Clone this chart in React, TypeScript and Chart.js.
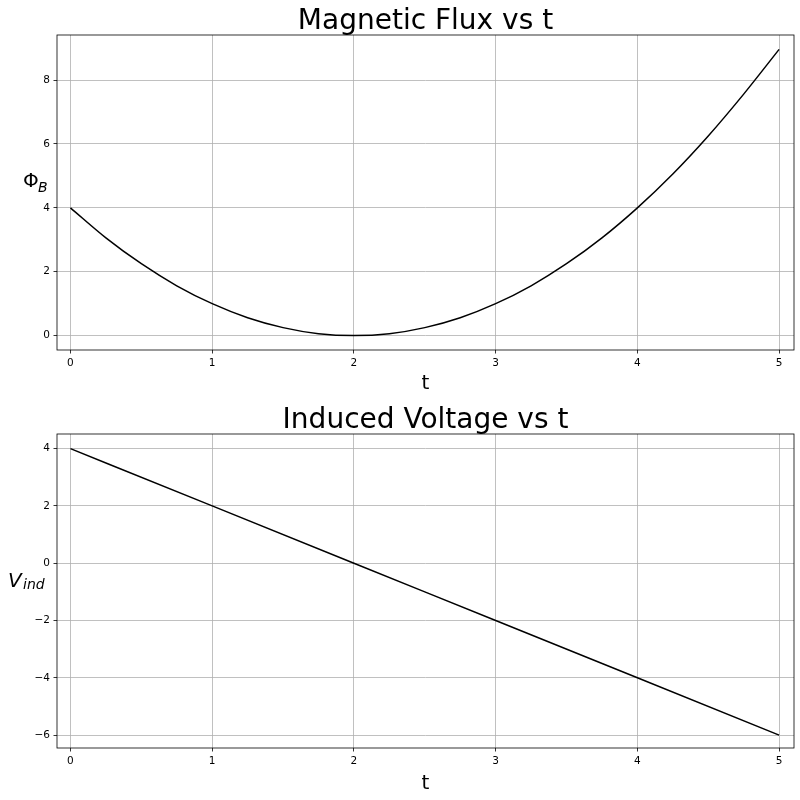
import React, { useEffect, useRef } from "react";
import { Chart, registerables } from "chart.js";

Chart.register(...registerables);

// ---- data ----
const tFlux = [0, 0.25, 0.5, 0.75, 1, 1.25, 1.5, 1.75, 2, 2.25, 2.5, 2.75, 3, 3.25, 3.5, 3.75, 4, 4.25, 4.5, 4.75, 5];
const fluxValues = [4.0, 3.06, 2.25, 1.56, 1.0, 0.56, 0.25, 0.06, 0.0, 0.06, 0.25, 0.56, 1.0, 1.56, 2.25, 3.06, 4.0, 5.06, 6.25, 7.56, 8.96];
const tVolt = [0, 1, 2, 3, 4, 5];
const voltValues = [4, 2, 0, -2, -4, -6];

const xTicks = [0, 1, 2, 3, 4, 5];
const xTickLabels = ["0", "1", "2", "3", "4", "5"];
const fluxTicks = [0, 2, 4, 6, 8];
const fluxTickLabels = ["0", "2", "4", "6", "8"];
const voltTicks = [-6, -4, -2, 0, 2, 4];
const voltTickLabels = ["\u22126", "\u22124", "\u22122", "0", "2", "4"];

const FONT = "'DejaVu Sans', 'Liberation Sans', sans-serif";

type Cfg = {
  title: string;
  xs: number[];
  ys: number[];
  yTicks: number[];
  yTickLabels: string[];
  yMin: number;
  yMax: number;
  top: number;
  plotH: number;
  yLabelMain: string;
  yLabelSub: string;
  mainItalic: boolean;
  mainX: number;
  mainBase: number;
  subX: number;
  subBase: number;
  titleBase: number;
  xLabelBase: number;
};

function makeChart(canvas: HTMLCanvasElement, c: Cfg) {
  const decor = {
    id: "decor",
    afterDraw(chart: any) {
      const ctx = chart.ctx as CanvasRenderingContext2D;
      const a = chart.chartArea;
      ctx.save();
      // frame
      ctx.strokeStyle = "#000";
      ctx.lineWidth = 0.8;
      ctx.strokeRect(a.left, a.top, a.right - a.left, a.bottom - a.top);
      // title
      ctx.fillStyle = "#000";
      ctx.textAlign = "center";
      ctx.textBaseline = "alphabetic";
      ctx.font = `28px ${FONT}`;
      ctx.fillText(c.title, (a.left + a.right) / 2, c.titleBase);
      // x label
      ctx.font = `20px ${FONT}`;
      ctx.fillText("t", (a.left + a.right) / 2, c.xLabelBase);
      // y label
      ctx.textAlign = "left";
      ctx.font = `${c.mainItalic ? "italic " : ""}20px ${FONT}`;
      ctx.fillText(c.yLabelMain, c.mainX, c.mainBase);
      ctx.font = `italic 14px ${FONT}`;
      ctx.fillText(c.yLabelSub, c.subX, c.subBase);
      ctx.restore();
    },
  };

  return new Chart(canvas, {
    type: "line",
    data: {
      datasets: [
        {
          data: c.xs.map((x, i) => ({ x, y: c.ys[i] })),
          borderColor: "#000",
          borderWidth: 1.5,
          pointRadius: 0,
          fill: false,
          cubicInterpolationMode: "monotone",
        } as any,
      ],
    },
    options: {
      animation: false,
      responsive: false,
      devicePixelRatio: 1,
      layout: { padding: { left: 0, right: 6, top: c.top, bottom: 0 } },
      plugins: {
        legend: { display: false },
        title: { display: false },
        tooltip: { enabled: false },
      },
      scales: {
        x: {
          type: "linear",
          min: -0.095,
          max: 5.105,
          afterBuildTicks: (s: any) => {
            s.ticks = xTicks.map((v) => ({ value: v }));
          },
          afterFit: (s: any) => {
            s.height = 400 - c.top - c.plotH;
          },
          ticks: {
            callback: (v: any) => {
              const i = xTicks.indexOf(Number(v));
              return i >= 0 ? xTickLabels[i] : "";
            },
            font: { family: FONT, size: 10.5 },
            color: "#000",
            padding: 3,
            maxRotation: 0,
            autoSkip: false,
          },
          grid: {
            color: "#b0b0b0",
            lineWidth: 0.8,
            tickLength: 3.5,
            tickColor: "#000",
            tickWidth: 0.8,
          },
          border: { display: false },
        },
        y: {
          type: "linear",
          min: c.yMin,
          max: c.yMax,
          afterBuildTicks: (s: any) => {
            s.ticks = c.yTicks.map((v) => ({ value: v }));
          },
          afterFit: (s: any) => {
            s.width = 57;
          },
          ticks: {
            callback: (v: any) => {
              const i = c.yTicks.indexOf(Number(v));
              return i >= 0 ? c.yTickLabels[i] : "";
            },
            font: { family: FONT, size: 10.5 },
            color: "#000",
            padding: 3.5,
            autoSkip: false,
          },
          grid: {
            color: "#b0b0b0",
            lineWidth: 0.8,
            tickLength: 3.5,
            tickColor: "#000",
            tickWidth: 0.8,
          },
          border: { display: false },
        },
      },
    } as any,
    plugins: [decor],
  });
}

export default function App() {
  const ref1 = useRef<HTMLCanvasElement>(null);
  const ref2 = useRef<HTMLCanvasElement>(null);

  useEffect(() => {
    const c1 = makeChart(ref1.current!, {
      title: "Magnetic Flux vs t",
      xs: tFlux,
      ys: fluxValues,
      yTicks: fluxTicks,
      yTickLabels: fluxTickLabels,
      yMin: -0.45,
      yMax: 9.41,
      top: 35,
      plotH: 315,
      yLabelMain: "\u03A6",
      yLabelSub: "B",
      mainItalic: false,
      mainX: 23,
      mainBase: 187,
      subX: 38,
      subBase: 191.5,
      titleBase: 28.5,
      xLabelBase: 389,
    });
    const c2 = makeChart(ref2.current!, {
      title: "Induced Voltage vs t",
      xs: tVolt,
      ys: voltValues,
      yTicks: voltTicks,
      yTickLabels: voltTickLabels,
      yMin: -6.45,
      yMax: 4.51,
      top: 34,
      plotH: 314,
      yLabelMain: "V",
      yLabelSub: "ind",
      mainItalic: true,
      mainX: 8,
      mainBase: 186.7,
      subX: 23,
      subBase: 189,
      titleBase: 28,
      xLabelBase: 389,
    });
    return () => {
      c1.destroy();
      c2.destroy();
    };
  }, []);

  return (
    <div style={{ position: "absolute", left: 0, top: 0, width: 800, height: 800, background: "#fff" }}>
      <canvas ref={ref1} width={800} height={400} style={{ position: "absolute", left: 0, top: 0, width: 800, height: 400 }} />
      <canvas ref={ref2} width={800} height={400} style={{ position: "absolute", left: 0, top: 400, width: 800, height: 400 }} />
    </div>
  );
}
